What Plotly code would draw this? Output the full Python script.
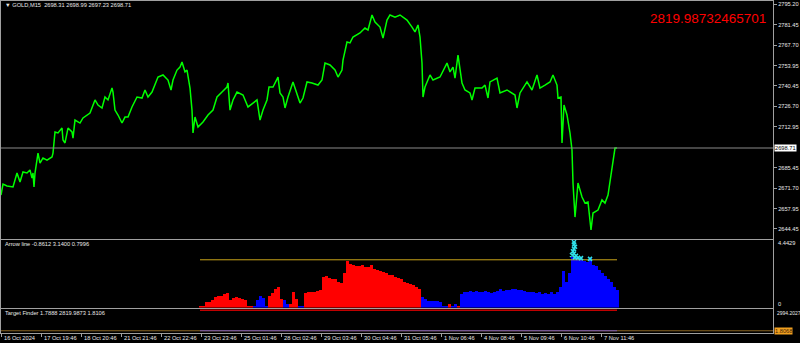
import plotly.graph_objects as go

# ---------------- data ----------------
symbol_info = "\u25BC GOLD,M15  2698.31 2698.99 2697.23 2698.71"
arrow_info = "Arrow line -0.8612 3.1400 0.7996"
target_info = "Target Finder 1.7888 2819.9873 1.8106"
target_value_text = "2819.98732465701"

# main price series (time position, close)
price_t = [1, 2, 3, 7, 13, 17, 20, 23, 27, 30, 32, 33, 34, 35, 38, 40, 42, 43, 47, 52,
           53, 55, 58, 62, 63, 65, 68, 72, 73, 75, 80, 83, 90, 95, 98, 102, 105, 108, 112, 113,
           115, 118, 122, 125, 128, 132, 137, 142, 145, 148, 152, 155, 158, 163, 168, 171, 173, 177, 180, 182,
           185, 187, 190, 192, 193, 195, 198, 203, 208, 213, 217, 222, 227, 228, 230, 233, 237, 243, 248, 253,
           257, 260, 263, 267, 269, 273, 278, 280, 283, 285, 288, 293, 297, 300, 303, 307, 312, 318, 322, 325,
           330, 335, 338, 342, 343, 347, 350, 353, 360, 365, 368, 372, 375, 380, 383, 387, 390, 395, 400, 407,
           412, 415, 418, 420, 422, 423, 425, 430, 433, 440, 447, 450, 453, 455, 458, 460, 462, 465, 470, 472,
           475, 482, 485, 488, 490, 497, 500, 507, 515, 517, 520, 527, 532, 537, 540, 545, 550, 553, 557, 558,
           561, 562, 564, 567, 570, 572, 573, 575, 578, 582, 585, 588, 591, 593, 598, 602, 605, 608, 612, 615,
           617]
price_close = [2667.1, 2670.5, 2674.5, 2673.2, 2672.5, 2681.9, 2675.9, 2682.6, 2681.9, 2683.9, 2678.5, 2681.9, 2672.5, 2681.9, 2695.3, 2688.6, 2690.6, 2692.0, 2690.6, 2692.7,
               2695.3, 2709.5, 2708.8, 2712.1, 2704.1, 2702.1, 2712.1, 2709.5, 2705.4, 2717.5, 2715.5, 2718.9, 2722.2, 2731.0, 2727.6, 2725.6, 2733.0, 2731.0, 2739.0, 2736.3,
               2724.2, 2720.9, 2715.5, 2719.5, 2719.5, 2726.3, 2733.0, 2732.3, 2737.7, 2733.0, 2736.3, 2741.0, 2746.4, 2747.8, 2744.4, 2737.7, 2744.4, 2751.1, 2753.1, 2756.5,
               2749.8, 2751.1, 2739.0, 2724.2, 2708.8, 2719.5, 2712.8, 2716.2, 2720.9, 2724.2, 2733.0, 2736.3, 2739.7, 2742.4, 2724.2, 2731.0, 2736.3, 2734.3, 2726.3, 2728.9,
               2731.0, 2717.5, 2724.2, 2731.0, 2739.7, 2739.7, 2746.4, 2735.7, 2733.0, 2725.6, 2733.0, 2743.1, 2734.3, 2728.9, 2732.3, 2743.1, 2742.4, 2741.0, 2744.4, 2755.8,
               2754.5, 2751.1, 2746.4, 2751.1, 2757.8, 2769.9, 2769.3, 2773.3, 2776.0, 2779.3, 2778.0, 2788.1, 2783.4, 2780.0, 2772.6, 2784.7, 2788.1, 2786.7, 2788.1, 2784.7,
               2780.0, 2776.7, 2781.4, 2773.3, 2755.8, 2733.0, 2739.7, 2747.8, 2744.4, 2746.4, 2755.8, 2749.8, 2753.1, 2745.7, 2761.2, 2753.1, 2742.4, 2737.7, 2735.7, 2731.0,
               2739.0, 2739.0, 2741.0, 2732.3, 2743.1, 2745.7, 2735.7, 2737.7, 2734.3, 2725.6, 2735.7, 2743.1, 2737.7, 2747.8, 2739.0, 2741.0, 2743.1, 2747.8, 2741.0, 2732.3,
               2733.0, 2702.1, 2727.6, 2720.9, 2708.8, 2697.4, 2675.2, 2652.3, 2675.2, 2665.8, 2661.7, 2662.4, 2643.6, 2655.0, 2657.0, 2663.8, 2661.7, 2667.1, 2685.9, 2698.7,
               2698.71]

price_tick_values = [2795.20, 2781.45, 2767.70, 2753.95, 2740.45, 2726.70, 2712.95,
                     2685.45, 2671.70, 2657.95, 2644.45]
price_tick_labels = ["2795.20", "2781.45", "2767.70", "2753.95", "2740.45", "2726.70", "2712.95",
                     "2685.45", "2671.70", "2657.95", "2644.45"]

time_labels = ["16 Oct 2024", "17 Oct 19:46", "18 Oct 20:46", "21 Oct 21:46", "22 Oct 22:46",
               "23 Oct 23:46", "25 Oct 01:46", "28 Oct 02:46", "29 Oct 03:46", "30 Oct 04:46",
               "31 Oct 05:46", "1 Nov 06:46", "4 Nov 08:46", "5 Nov 09:46", "6 Nov 10:46",
               "7 Nov 11:46"]

# Arrow line histogram (one value every 3 time positions from 200)
hist_values = [0.05, 0.1, 0.33, 0.38, 0.48, 0.67, 0.76, 0.78, 0.86, 0.95, 0.48, 0.62, 0.67, 0.62, 0.59, 0.48, 0.08, 0.05,
               0.06, 0.48, 0.76, 0.62, 0.1,
               0.76, 0.95, 1.19, 1.38, 0.57,
               0.48, 0.2,
               0.2, 1.0, 0.57,
               0.08, 0.08,
               0.95, 1.0, 1.0, 1.05, 1.09, 1.14, 2.0, 2.09, 1.95, 1.9, 1.85, 1.71, 1.62, 2.28, 3.04, 2.85, 2.8, 2.76, 2.71, 2.8,
               2.66, 2.66, 2.8, 2.52, 2.47, 2.38, 2.33, 2.28, 2.14, 2.14, 2.04, 1.95, 1.85, 1.71, 1.62, 1.57, 1.47, 1.33, 1.24,
               0.71, 0.57, 0.43, 0.46, 0.43, 0.4, 0.33, 0.1, 0.06,
               0.2,
               0.1, 0.25,
               0.1,
               0.86, 1.0, 1.05, 1.09, 1.05, 1.09, 1.0, 1.05, 1.09, 1.0, 0.95, 1.05, 1.09, 1.19, 1.09, 1.14, 1.14, 1.19, 1.24,
               1.14, 1.14, 1.09, 1.05, 1.0, 1.05, 0.95, 1.0, 0.9, 0.95, 0.9, 1.0, 0.9, 1.05, 1.33, 2.38, 1.71, 2.28, 3.33,
               3.33, 3.23, 3.18, 3.04, 2.99, 3.23, 2.8, 2.76, 2.47, 2.28, 2.09, 1.9, 1.71, 1.33, 1.14]
hist_segments = [("sell", 18), ("buy", 5), ("sell", 5), ("buy", 2), ("sell", 3), ("buy", 2),
                 ("sell", 39), ("buy", 9), ("sell", 1), ("buy", 2), ("sell", 1), ("buy", 53)]
hist_start, hist_step = 200, 3
arrow_level = 3.14

signal_t = [574, 574, 575, 574, 573, 574, 572, 576, 575, 578, 581, 590]
signal_v = [4.3, 4.15, 4.0, 3.85, 3.7, 3.55, 3.45, 3.4, 3.3, 3.28, 3.25, 3.2]

target_main = 2819.9873
target_low = 1.7888
target_high = 1.8106
target_label = 1.8068

# ---------------- figure ----------------
W, H = 800, 343
FONT = "Liberation Sans, Arial, sans-serif"
GRID = "#a0a0a0"
TXT = "#e8e8e8"

def py(p):
    return 1 - p / H

hist_trend = []
for name, n in hist_segments:
    hist_trend += [name] * n
hist_x = [hist_start + hist_step * i for i in range(len(hist_values))]
trend_color = {"sell": "#ff0000", "buy": "#0000ff"}

fig = go.Figure()

fig.add_trace(go.Scatter(x=price_t, y=price_close, mode="lines",
                         line=dict(color="#00ff00", width=1.5), xaxis="x", yaxis="y",
                         hoverinfo="skip"))

fig.add_trace(go.Bar(x=hist_x, y=hist_values, width=hist_step,
                     marker=dict(color=[trend_color[t] for t in hist_trend], line=dict(width=0)),
                     xaxis="x2", yaxis="y2", hoverinfo="skip"))
fig.add_trace(go.Scatter(x=[hist_x[0], hist_x[-1]], y=[arrow_level, arrow_level], mode="lines",
                         line=dict(color="#c8a41a", width=1), xaxis="x2", yaxis="y2"))
fig.add_trace(go.Scatter(x=signal_t, y=signal_v, mode="markers",
                         marker=dict(symbol="x-thin", size=4, color="#30e0e8",
                                     line=dict(color="#30e0e8", width=1.5)),
                         xaxis="x2", yaxis="y2"))

fig.add_trace(go.Scatter(x=[1, 773], y=[target_high, target_high], mode="lines",
                         line=dict(color="#8a6422", width=1.2), xaxis="x3", yaxis="y3"))
fig.add_trace(go.Scatter(x=[hist_x[0], hist_x[-1]], y=[target_low, target_low], mode="lines",
                         line=dict(color="#7a58b8", width=1.2), xaxis="x3", yaxis="y3"))
fig.add_trace(go.Scatter(x=[hist_x[0], hist_x[-1]], y=[target_main, target_main], mode="lines",
                         line=dict(color="#c00000", width=1.5), xaxis="x3", yaxis="y3"))

xdom = [1 / W, 773 / W]
axis_common = dict(showgrid=False, zeroline=False, showline=True, mirror=True,
                   linecolor=GRID, linewidth=1, automargin=False, fixedrange=True)

fig.update_layout(
    width=W, height=H, margin=dict(l=0, r=0, t=0, b=0), autosize=False,
    paper_bgcolor="black", plot_bgcolor="black", showlegend=False, bargap=0,
    font=dict(family=FONT, size=6, color=TXT),
    xaxis=dict(domain=xdom, range=[1, 773], anchor="y", showticklabels=False, ticks="", **axis_common),
    xaxis2=dict(domain=xdom, range=[1, 773], anchor="y2", showticklabels=False, ticks="", **axis_common),
    xaxis3=dict(domain=xdom, range=[1, 773], anchor="y3", ticks="outside", ticklen=3,
                tickcolor=GRID, tickvals=[1 + 40 * i for i in range(len(time_labels))],
                ticktext=time_labels, showticklabels=False, **axis_common),
    yaxis=dict(domain=[py(238.5), py(1)], range=[2637.9, 2797.5], anchor="x", side="right",
               tickvals=price_tick_values, ticktext=price_tick_labels, ticks="outside",
               ticklen=3, tickcolor=GRID, tickfont=dict(family=FONT, size=5.7, color=TXT),
               **axis_common),
    yaxis2=dict(domain=[py(307.5), py(240)], range=[0, 4.4429], anchor="x2", side="right",
                showticklabels=False, ticks="", **axis_common),
    yaxis3=dict(domain=[py(332.5), py(309)], range=[-236, 2994.2], anchor="x3", side="right",
                showticklabels=False, ticks="", **axis_common),
)

last_price = price_close[-1]
fig.add_shape(type="line", xref="paper", x0=xdom[0], x1=xdom[1], yref="y",
              y0=last_price, y1=last_price, line=dict(color="#8a8a8a", width=1))

def note(text, x, y, size=5.7, color=TXT, **kw):
    fig.add_annotation(text=text, xref="paper", yref="paper", x=x / W, y=py(y),
                       xanchor="left", yanchor="middle", showarrow=False,
                       font=dict(family=FONT, size=size, color=color), **kw)

note(symbol_info, 3, 5.5)
note(arrow_info, 3, 244)
note(target_info, 3, 313)
note(target_value_text, 648, 18, size=13.5, color="#ff0000")
note("4.4429", 776, 243)
note("0", 776, 304)
note("2994.2027", 775, 312.5, size=5.0)

# time labels, left-aligned just right of each tick (as on the original)
for i, lab in enumerate(time_labels):
    fig.add_annotation(text=lab, xref="x3", yref="paper", x=1 + 40 * i, y=py(338),
                       xanchor="left", yanchor="middle", xshift=1, showarrow=False,
                       font=dict(family=FONT, size=5.7, color=TXT))

fig.add_annotation(text=f"{last_price:.2f}", xref="paper", yref="y", x=774 / W, y=last_price,
                   xanchor="left", yanchor="middle", showarrow=False, bgcolor="white",
                   borderpad=0, font=dict(family=FONT, size=5.7, color="black"))
fig.add_annotation(text=f"{target_label:.4f}", xref="paper", yref="y3", x=774 / W, y=target_label,
                   xanchor="left", yanchor="middle", showarrow=False, bgcolor="#f0a020",
                   borderpad=0, font=dict(family=FONT, size=5.7, color="#402000"))

fig.write_html("out.html")
